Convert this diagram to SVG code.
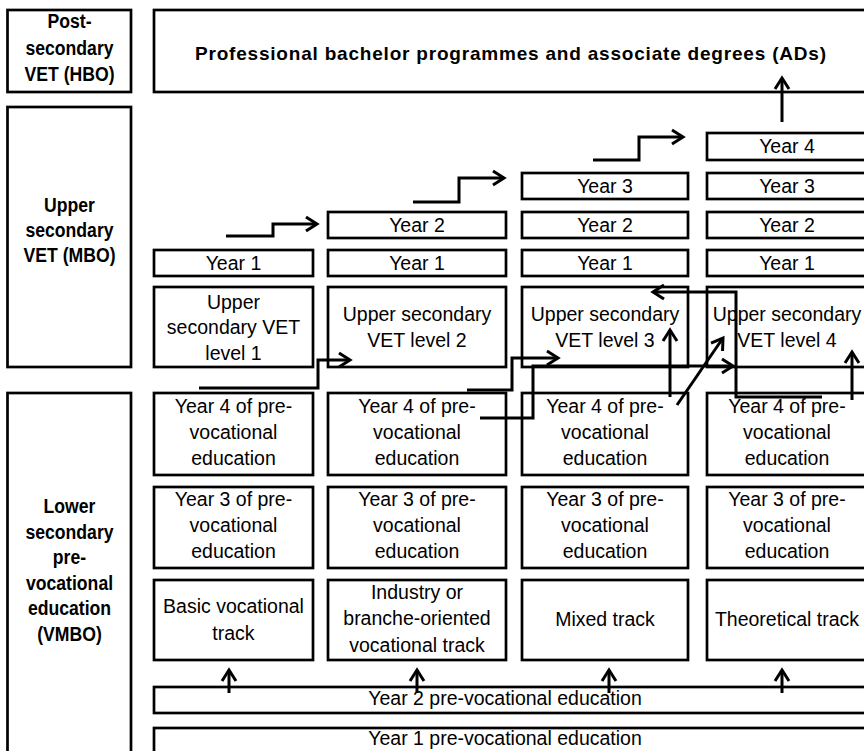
<svg xmlns="http://www.w3.org/2000/svg" width="864" height="751" viewBox="0 0 864 751">
<style>
.box{fill:#fff;stroke:#000;stroke-width:2.7}
.t{font-family:"Liberation Sans",Arial,sans-serif;font-size:19.5px;fill:#000;text-anchor:middle}
.b{font-family:"Liberation Sans",Arial,sans-serif;font-size:21px;font-weight:bold;fill:#000;text-anchor:middle}
.ttl{font-family:"Liberation Sans",Arial,sans-serif;font-size:19px;font-weight:bold;fill:#000;text-anchor:middle}
.c{fill:none;stroke:#000;stroke-width:3;marker-end:url(#ah)}
</style>
<defs>
<marker id="ah" markerUnits="userSpaceOnUse" markerWidth="30" markerHeight="30" refX="0" refY="0" orient="auto" viewBox="-15 -15 30 30" overflow="visible">
<path d="M-11,-7 L0,0 L-11,7" fill="none" stroke="#000" stroke-width="3"/>
</marker>
</defs>
<rect width="864" height="751" fill="#fff"/>

<g id="label-hbo">
<rect class="box" x="7.5" y="10" width="123.5" height="82"/>
<g transform="translate(69.5,0) scale(0.84,1)">
<text class="b" x="0" y="28.5">Post-</text>
<text class="b" x="0" y="55">secondary</text>
<text class="b" x="0" y="81.5">VET (HBO)</text>
</g>
</g>
<g id="label-mbo">
<rect class="box" x="7.5" y="107" width="123.5" height="260"/>
<g transform="translate(69.5,0) scale(0.84,1)">
<text class="b" x="0" y="212.5">Upper</text>
<text class="b" x="0" y="237.5">secondary</text>
<text class="b" x="0" y="262.5">VET (MBO)</text>
</g>
</g>
<g id="label-vmbo">
<rect class="box" x="7.5" y="393" width="123.5" height="360"/>
<g transform="translate(69.5,0) scale(0.84,1)">
<text class="b" x="0" y="513.5">Lower</text>
<text class="b" x="0" y="539">secondary</text>
<text class="b" x="0" y="564.5">pre-</text>
<text class="b" x="0" y="590">vocational</text>
<text class="b" x="0" y="615.5">education</text>
<text class="b" x="0" y="641">(VMBO)</text>
</g>
</g>

<g id="hbo">
<rect class="box" x="154" y="10" width="716" height="82"/>
<text class="ttl" x="510.5" y="60" textLength="631" lengthAdjust="spacing">Professional bachelor programmes and associate degrees (ADs)</text>
</g>

<g id="c1-y1"><rect class="box" x="154" y="250" width="159" height="26"/><text class="t" x="233.5" y="269.5">Year 1</text></g>
<g id="c2-y2"><rect class="box" x="328" y="212" width="178" height="26"/><text class="t" x="417" y="231.5">Year 2</text></g>
<g id="c2-y1"><rect class="box" x="328" y="250" width="178" height="26"/><text class="t" x="417" y="269.5">Year 1</text></g>
<g id="c3-y3"><rect class="box" x="522" y="173" width="166" height="26"/><text class="t" x="605" y="192.5">Year 3</text></g>
<g id="c3-y2"><rect class="box" x="522" y="212" width="166" height="26"/><text class="t" x="605" y="231.5">Year 2</text></g>
<g id="c3-y1"><rect class="box" x="522" y="250" width="166" height="26"/><text class="t" x="605" y="269.5">Year 1</text></g>
<g id="c4-y4"><rect class="box" x="707" y="133" width="162" height="27"/><text class="t" x="787" y="153.3">Year 4</text></g>
<g id="c4-y3"><rect class="box" x="707" y="173" width="162" height="26"/><text class="t" x="787" y="192.5">Year 3</text></g>
<g id="c4-y2"><rect class="box" x="707" y="212" width="162" height="26"/><text class="t" x="787" y="231.5">Year 2</text></g>
<g id="c4-y1"><rect class="box" x="707" y="250" width="162" height="26"/><text class="t" x="787" y="269.5">Year 1</text></g>

<g id="vet1"><rect class="box" x="154" y="287" width="159" height="80"/>
<text class="t" x="233.5" y="308.5">Upper</text><text class="t" x="233.5" y="334">secondary VET</text><text class="t" x="233.5" y="359.5">level 1</text></g>
<g id="vet2"><rect class="box" x="328" y="287" width="178" height="80"/>
<text class="t" x="417" y="320.5">Upper secondary</text><text class="t" x="417" y="346.5">VET level 2</text></g>
<g id="vet3"><rect class="box" x="522" y="287" width="166" height="80"/>
<text class="t" x="605" y="320.5">Upper secondary</text><text class="t" x="605" y="346.5">VET level 3</text></g>
<g id="vet4"><rect class="box" x="707" y="287" width="162" height="80"/>
<text class="t" x="787" y="320.5">Upper secondary</text><text class="t" x="787" y="346.5">VET level 4</text></g>

<g id="pv4-c1"><rect class="box" x="154" y="393" width="159" height="82"/>
<text class="t" x="233.5" y="412.5">Year 4 of pre-</text><text class="t" x="233.5" y="438.5">vocational</text><text class="t" x="233.5" y="465">education</text></g>
<g id="pv4-c2"><rect class="box" x="328" y="393" width="178" height="82"/>
<text class="t" x="417" y="412.5">Year 4 of pre-</text><text class="t" x="417" y="438.5">vocational</text><text class="t" x="417" y="465">education</text></g>
<g id="pv4-c3"><rect class="box" x="522" y="393" width="166" height="82"/>
<text class="t" x="605" y="412.5">Year 4 of pre-</text><text class="t" x="605" y="438.5">vocational</text><text class="t" x="605" y="465">education</text></g>
<g id="pv4-c4"><rect class="box" x="707" y="393" width="162" height="82"/>
<text class="t" x="787" y="412.5">Year 4 of pre-</text><text class="t" x="787" y="438.5">vocational</text><text class="t" x="787" y="465">education</text></g>

<g id="pv3-c1"><rect class="box" x="154" y="487" width="159" height="81"/>
<text class="t" x="233.5" y="505.5">Year 3 of pre-</text><text class="t" x="233.5" y="531.5">vocational</text><text class="t" x="233.5" y="558">education</text></g>
<g id="pv3-c2"><rect class="box" x="328" y="487" width="178" height="81"/>
<text class="t" x="417" y="505.5">Year 3 of pre-</text><text class="t" x="417" y="531.5">vocational</text><text class="t" x="417" y="558">education</text></g>
<g id="pv3-c3"><rect class="box" x="522" y="487" width="166" height="81"/>
<text class="t" x="605" y="505.5">Year 3 of pre-</text><text class="t" x="605" y="531.5">vocational</text><text class="t" x="605" y="558">education</text></g>
<g id="pv3-c4"><rect class="box" x="707" y="487" width="162" height="81"/>
<text class="t" x="787" y="505.5">Year 3 of pre-</text><text class="t" x="787" y="531.5">vocational</text><text class="t" x="787" y="558">education</text></g>

<g id="track-basic"><rect class="box" x="154" y="580" width="159" height="80"/>
<text class="t" x="233.5" y="613">Basic vocational</text><text class="t" x="233.5" y="639.5">track</text></g>
<g id="track-industry"><rect class="box" x="328" y="580" width="178" height="80"/>
<text class="t" x="417" y="599">Industry or</text><text class="t" x="417" y="625">branche-oriented</text><text class="t" x="417" y="651.5">vocational track</text></g>
<g id="track-mixed"><rect class="box" x="522" y="580" width="166" height="80"/>
<text class="t" x="605" y="626">Mixed track</text></g>
<g id="track-theoretical"><rect class="box" x="707" y="580" width="162" height="80"/>
<text class="t" x="787" y="626">Theoretical track</text></g>

<g id="pv-year2"><rect class="box" x="154" y="687" width="716" height="26"/>
<text class="t" x="505" y="704.5">Year 2 pre-vocational education</text></g>
<g id="pv-year1"><rect class="box" x="154" y="728" width="716" height="30"/>
<text class="t" x="505" y="745">Year 1 pre-vocational education</text></g>

<g id="connectors">
<path class="c" d="M782,122 V78"/>
<path class="c" d="M226,236 H273 V224 H317"/>
<path class="c" d="M413,202 H459 V178 H504"/>
<path class="c" d="M593,160 H639 V137 H683"/>
<path class="c" d="M199,388 H318 V360 H350"/>
<path class="c" d="M467,390 H512 V358 H558"/>
<path class="c" d="M480,418 H533 V366 H733"/>
<path class="c" d="M822,397 H736 V292 H653"/>
<path class="c" d="M670,397 V330"/>
<path class="c" d="M677,405 L723,338"/>
<path class="c" d="M852,400 V352"/>
<path class="c" d="M229,693 V670"/>
<path class="c" d="M417,693 V670"/>
<path class="c" d="M609,693 V670"/>
<path class="c" d="M782,693 V670"/>
</g>
</svg>
